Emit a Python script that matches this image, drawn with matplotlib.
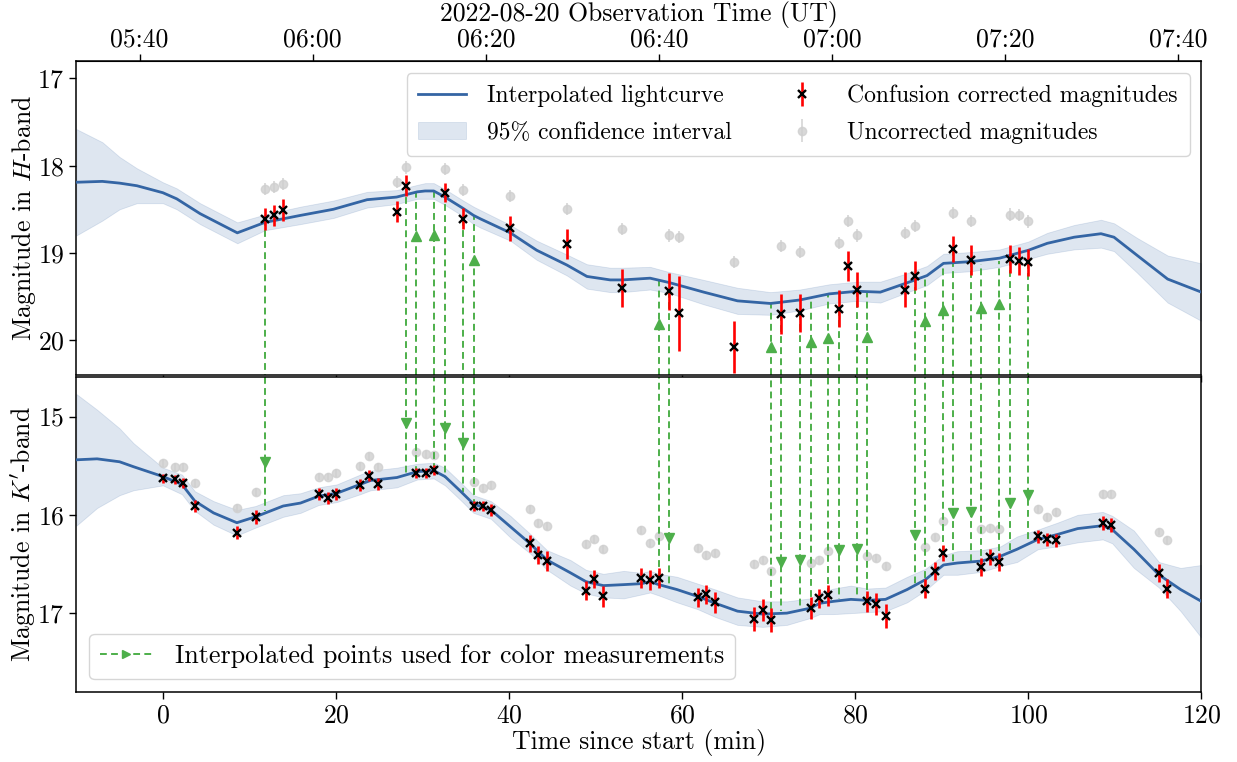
import numpy as np
import matplotlib
matplotlib.use('Agg')
import matplotlib.pyplot as plt
from matplotlib.lines import Line2D

plt.rcParams['font.family'] = ['cmr10']
plt.rcParams['mathtext.fontset'] = 'cm'
plt.rcParams['axes.formatter.use_mathtext'] = True
plt.rcParams['axes.unicode_minus'] = False

# ---------------- data ----------------
# H band: confusion corrected measurements
H_t = [11.83, 12.87, 13.87, 27.05, 28.13, 32.64, 34.68, 40.15, 46.66, 53.06, 58.53, 59.61, 66.0,
       71.45, 73.6, 78.1, 79.19, 80.15, 85.8, 86.89, 91.33, 93.37, 97.84, 98.88, 99.96]
H_mag = [18.61, 18.57, 18.51, 18.53, 18.23, 18.31, 18.61, 18.72, 18.90, 19.40, 19.44, 19.69, 20.08,
         19.70, 19.69, 19.64, 19.15, 19.42, 19.42, 19.26, 18.96, 19.08, 19.07, 19.09, 19.11]
H_err = [0.13, 0.12, 0.13, 0.12, 0.12, 0.11, 0.12, 0.14, 0.17, 0.22, 0.21, 0.43, 0.30,
         0.23, 0.22, 0.21, 0.17, 0.20, 0.20, 0.17, 0.15, 0.17, 0.16, 0.16, 0.15]
# H band: uncorrected
H_unc = [18.27, 18.24, 18.21, 18.19, 18.02, 18.04, 18.28, 18.35, 18.50, 18.73, 18.80, 18.82, 19.10,
         18.92, 18.99, 18.89, 18.63, 18.80, 18.77, 18.69, 18.54, 18.63, 18.56, 18.57, 18.64]
H_unc_err = [0.07] * len(H_t)

# H band interpolated lightcurve and 95% half-width
Hc_t = [-10, -7, -5, -3, 0, 1.6, 4.3, 8.6, 11.8, 15.9, 19.7, 23.6, 27.0, 29.4, 30.3, 31.3, 32.6,
        34.7, 35.9, 36.7, 40.15, 43.2, 46.7, 49.0, 51.7, 53.1, 56.3, 58.5, 62.5, 66.4, 70.2, 73.6,
        77.0, 80.2, 82.9, 85.8, 88.3, 90.2, 93.4, 96.7, 100.0, 102.2, 105.3, 108.4, 109.9, 112.6,
        116.1, 120]
Hc_mag = [18.19, 18.18, 18.20, 18.23, 18.31, 18.38, 18.55, 18.77, 18.65, 18.57, 18.50, 18.39, 18.36,
          18.30, 18.29, 18.29, 18.36, 18.49, 18.57, 18.61, 18.77, 18.97, 19.14, 19.27, 19.31, 19.31,
          19.29, 19.34, 19.45, 19.55, 19.58, 19.54, 19.47, 19.44, 19.45, 19.35, 19.26, 19.12, 19.10,
          19.06, 18.97, 18.89, 18.82, 18.78, 18.82, 19.03, 19.30, 19.45]
Hc_hw = [0.61, 0.45, 0.30, 0.20, 0.12, 0.12, 0.12, 0.12, 0.09, 0.10, 0.10, 0.09, 0.08,
         0.08, 0.09, 0.09, 0.09, 0.09, 0.10, 0.10, 0.09, 0.11, 0.12, 0.14, 0.14, 0.14,
         0.13, 0.12, 0.14, 0.15, 0.13, 0.12, 0.11, 0.11, 0.12, 0.11, 0.11, 0.11, 0.11,
         0.10, 0.10, 0.12, 0.14, 0.16, 0.16, 0.20, 0.27, 0.33]

# K' band: confusion corrected measurements
K_t = [0.0, 1.39, 2.27, 3.73, 8.59, 10.71, 18.0, 19.03, 20.03, 22.8, 23.85, 24.89, 29.28, 30.36,
       31.36, 35.9, 36.95, 37.9, 42.4, 43.4, 44.4, 48.86, 49.86, 50.87, 55.26, 56.33, 57.34, 61.8,
       62.8, 63.85, 68.28, 69.32, 70.32, 74.84, 75.87, 76.9, 81.4, 82.46, 83.54, 88.1, 89.17, 90.17,
       94.57, 95.6, 96.65, 101.1, 102.15, 103.19, 108.6, 109.6, 115.1, 116.07]
K_mag = [15.63, 15.64, 15.68, 15.91, 16.18, 16.02, 15.79, 15.83, 15.79, 15.70, 15.60, 15.69, 15.57,
         15.57, 15.54, 15.91, 15.91, 15.95, 16.29, 16.41, 16.47, 16.77, 16.65, 16.83, 16.64, 16.66,
         16.64, 16.84, 16.81, 16.89, 17.06, 16.97, 17.07, 16.95, 16.85, 16.82, 16.88, 16.91, 17.03,
         16.75, 16.57, 16.39, 16.53, 16.43, 16.48, 16.22, 16.25, 16.26, 16.08, 16.10, 16.59, 16.75]
K_err = [0.05, 0.05, 0.05, 0.06, 0.07, 0.07, 0.06, 0.06, 0.06, 0.06, 0.06, 0.06, 0.05, 0.05,
         0.05, 0.05, 0.05, 0.06, 0.09, 0.09, 0.10, 0.10, 0.09, 0.11, 0.10, 0.10, 0.10, 0.10,
         0.10, 0.11, 0.12, 0.11, 0.12, 0.11, 0.10, 0.11, 0.11, 0.11, 0.12, 0.10, 0.09, 0.08,
         0.09, 0.08, 0.09, 0.07, 0.07, 0.07, 0.07, 0.07, 0.09, 0.10]
K_unc = [15.47, 15.51, 15.51, 15.68, 15.93, 15.77, 15.61, 15.61, 15.57, 15.50, 15.40, 15.51, 15.36,
         15.38, 15.39, 15.67, 15.73, 15.70, 15.94, 16.08, 16.11, 16.30, 16.25, 16.35, 16.15, 16.29,
         16.22, 16.34, 16.41, 16.39, 16.50, 16.46, 16.57, 16.49, 16.46, 16.37, 16.42, 16.44, 16.52,
         16.33, 16.23, 16.06, 16.14, 16.13, 16.14, 15.94, 16.02, 15.97, 15.79, 15.79, 16.17, 16.26]
K_unc_err = [0.04] * len(K_t)

# K' band interpolated lightcurve and 95% half-width
Kc_t = [-10, -7.6, -5, -3.4, 0, 2.2, 3.7, 5.85, 8.55, 10.7, 13.9, 15.9, 18.0, 20.1, 22.8, 24.0,
        27.05, 29.4, 31.3, 32.6, 34.4, 35.9, 37.9, 40.15, 42.4, 44.4, 47.1, 48.9, 50.9, 53.25,
        55.3, 56.3, 57.3, 59.4, 61.8, 63.85, 66.4, 69.3, 72.1, 74.8, 75.9, 77.5, 79.5, 81.4, 83.5,
        86.0, 88.1, 90.2, 91.8, 94.6, 96.8, 98.7, 101.1, 103.35, 105.7, 108.6, 109.7, 112.2,
        115.1, 117.6, 120]
Kc_mag = [15.44, 15.43, 15.46, 15.51, 15.61, 15.69, 15.86, 15.98, 16.08, 16.02, 15.91, 15.88,
          15.81, 15.78, 15.69, 15.65, 15.62, 15.56, 15.55, 15.61, 15.76, 15.89, 15.95, 16.12,
          16.29, 16.46, 16.59, 16.68, 16.72, 16.71, 16.70, 16.68, 16.71, 16.76, 16.83, 16.90,
          16.98, 17.01, 17.00, 16.95, 16.90, 16.88, 16.86, 16.87, 16.86, 16.76, 16.66, 16.51,
          16.49, 16.47, 16.42, 16.35, 16.25, 16.20, 16.14, 16.11, 16.15, 16.35, 16.61, 16.76, 16.88]
Kc_hw = [0.67, 0.50, 0.34, 0.24, 0.09, 0.10, 0.10, 0.12, 0.13, 0.11, 0.11, 0.10, 0.09, 0.09,
         0.10, 0.10, 0.10, 0.08, 0.08, 0.09, 0.09, 0.09, 0.09, 0.11, 0.10, 0.10, 0.13, 0.12,
         0.12, 0.14, 0.11, 0.11, 0.11, 0.13, 0.13, 0.14, 0.14, 0.13, 0.12, 0.10, 0.11, 0.13,
         0.14, 0.12, 0.12, 0.13, 0.11, 0.10, 0.12, 0.11, 0.10, 0.13, 0.10, 0.12, 0.14, 0.14,
         0.14, 0.19, 0.13, 0.22, 0.37]

# interpolated points used for colour measurements
# K' lightcurve value at H observation times
down_t = [11.83, 28.13, 32.64, 34.68, 58.53, 71.45, 73.6, 78.1, 80.15, 86.89, 91.33, 93.37,
          97.84, 99.96]
down_K = [15.96, 15.57, 15.62, 15.77, 16.74, 16.98, 16.96, 16.86, 16.85, 16.70, 16.48, 16.47,
          16.38, 16.30]
# H lightcurve value at K' observation times
up_t = [29.28, 31.36, 35.9, 57.34, 70.32, 74.84, 76.9, 81.4, 88.1, 90.17, 94.57, 96.65]
up_H = [18.31, 18.30, 18.58, 19.31, 19.58, 19.52, 19.48, 19.46, 19.28, 19.15, 19.13, 19.09]

START_MIN = 5 * 60 + 42.68            # observation start, minutes after 00:00 UT
TOP_TICKS = [340, 360, 380, 400, 420, 440, 460]
TOP_LABELS = ['05:40', '06:00', '06:20', '06:40', '07:00', '07:20', '07:40']

# ---------------- style ----------------
LINE_C = '#3465a4'
GREEN = '#4daf4a'
GREY = '#cfcfcf'
FS = 18.5
LFS1 = 17
LFS2 = 18.7
ARROW_OFF = 0.5

fig = plt.figure(figsize=(12.37, 7.62), dpi=100)
axH = fig.add_axes([0.0617, 0.5079, 0.9095, 0.4120])
axK = fig.add_axes([0.0617, 0.0922, 0.9095, 0.4127])


def panel(ax, ct, cm, hw, ot, om, oe, um, ue):
    ct = np.asarray(ct); cm = np.asarray(cm); hw = np.asarray(hw)
    band = ax.fill_between(ct, cm - hw, cm + hw, facecolor=LINE_C, alpha=0.16,
                           edgecolor=LINE_C, linewidth=0.6, zorder=1)
    line, = ax.plot(ct, cm, color=LINE_C, lw=2.0, zorder=3)
    unc = ax.errorbar(ot, um, yerr=ue, fmt='o', color=GREY, ecolor=GREY, ms=6,
                      elinewidth=1.3, capsize=0, alpha=0.8, zorder=2)
    cor = ax.errorbar(ot, om, yerr=oe, fmt='x', color='black', ecolor='red', ms=5.5,
                      mew=1.7, elinewidth=1.9, capsize=0, zorder=5)
    return line, band, cor, unc


lH, bH, cH, uH = panel(axH, Hc_t, Hc_mag, Hc_hw, H_t, H_mag, H_err, H_unc, H_unc_err)
lK, bK, cK, uK = panel(axK, Kc_t, Kc_mag, Kc_hw, K_t, K_mag, K_err, K_unc, K_unc_err)

axH.set_xlim(-10, 120)
axK.set_xlim(-10, 120)
axH.set_ylim(20.40, 16.80)
axK.set_ylim(17.80, 14.60)

# green connecting lines
H_bot = axH.get_ylim()[0]
K_top = axK.get_ylim()[1]
H_mag_at = dict(zip(H_t, H_mag))
K_mag_at = dict(zip(K_t, K_mag))
dash = dict(color=GREEN, lw=1.4, ls=(0, (3.5, 2.2)), zorder=2.5)
for t, kv in zip(down_t, down_K):
    axH.plot([t, t], [H_mag_at[t], H_bot], **dash)
    axK.plot([t, t], [K_top, kv], **dash)
    axK.plot([t], [kv - ARROW_OFF], marker='v', color=GREEN, ms=6.5, ls='none', zorder=2.6)
for t, hv in zip(up_t, up_H):
    axK.plot([t, t], [K_mag_at[t], K_top], **dash)
    axH.plot([t, t], [H_bot, hv], **dash)
    axH.plot([t], [hv + ARROW_OFF], marker='^', color=GREEN, ms=6.5, ls='none', zorder=2.6)

# axes decorations
for ax in (axH, axK):
    ax.set_xticks([0, 20, 40, 60, 80, 100, 120])
    ax.tick_params(labelsize=FS, length=5, width=1)
    for s in ax.spines.values():
        s.set_linewidth(1.1)
axH.set_yticks([17, 18, 19, 20])
axK.set_yticks([15, 16, 17])
axH.tick_params(labelbottom=False)
axH.set_ylabel('Magnitude in $H$-band', fontsize=FS)
axK.set_ylabel("Magnitude in $K'$-band", fontsize=FS)
axH.yaxis.set_label_coords(-0.034, 0.5)
axK.yaxis.set_label_coords(-0.034, 0.5)
axK.set_xlabel('Time since start (min)', fontsize=FS, labelpad=1)

sec = axH.secondary_xaxis('top', functions=(lambda t: t + START_MIN, lambda m: m - START_MIN))
sec.set_xticks(TOP_TICKS)
sec.set_xticklabels(TOP_LABELS)
sec.tick_params(labelsize=FS, length=5, width=1, pad=2)
fig.text(0.5162, 0.999, '2022-08-20 Observation Time (UT)', fontsize=FS,
         ha='center', va='top')

axH.legend([lH, bH, cH, uH],
           ['Interpolated lightcurve', '95% confidence interval',
            'Confusion corrected magnitudes', 'Uncorrected magnitudes'],
           loc='upper right', ncol=2, fontsize=LFS1, labelspacing=0.62, borderpad=0.5,
           handletextpad=0.9)
g_handle = Line2D([], [], color=GREEN, lw=1.4, ls=(0, (3.5, 2.2)), marker='>', ms=6)
axK.legend([g_handle], ['Interpolated points used for color measurements'],
           loc='lower left', fontsize=LFS2, handletextpad=0.9)

fig.savefig('out.png', dpi=100)
